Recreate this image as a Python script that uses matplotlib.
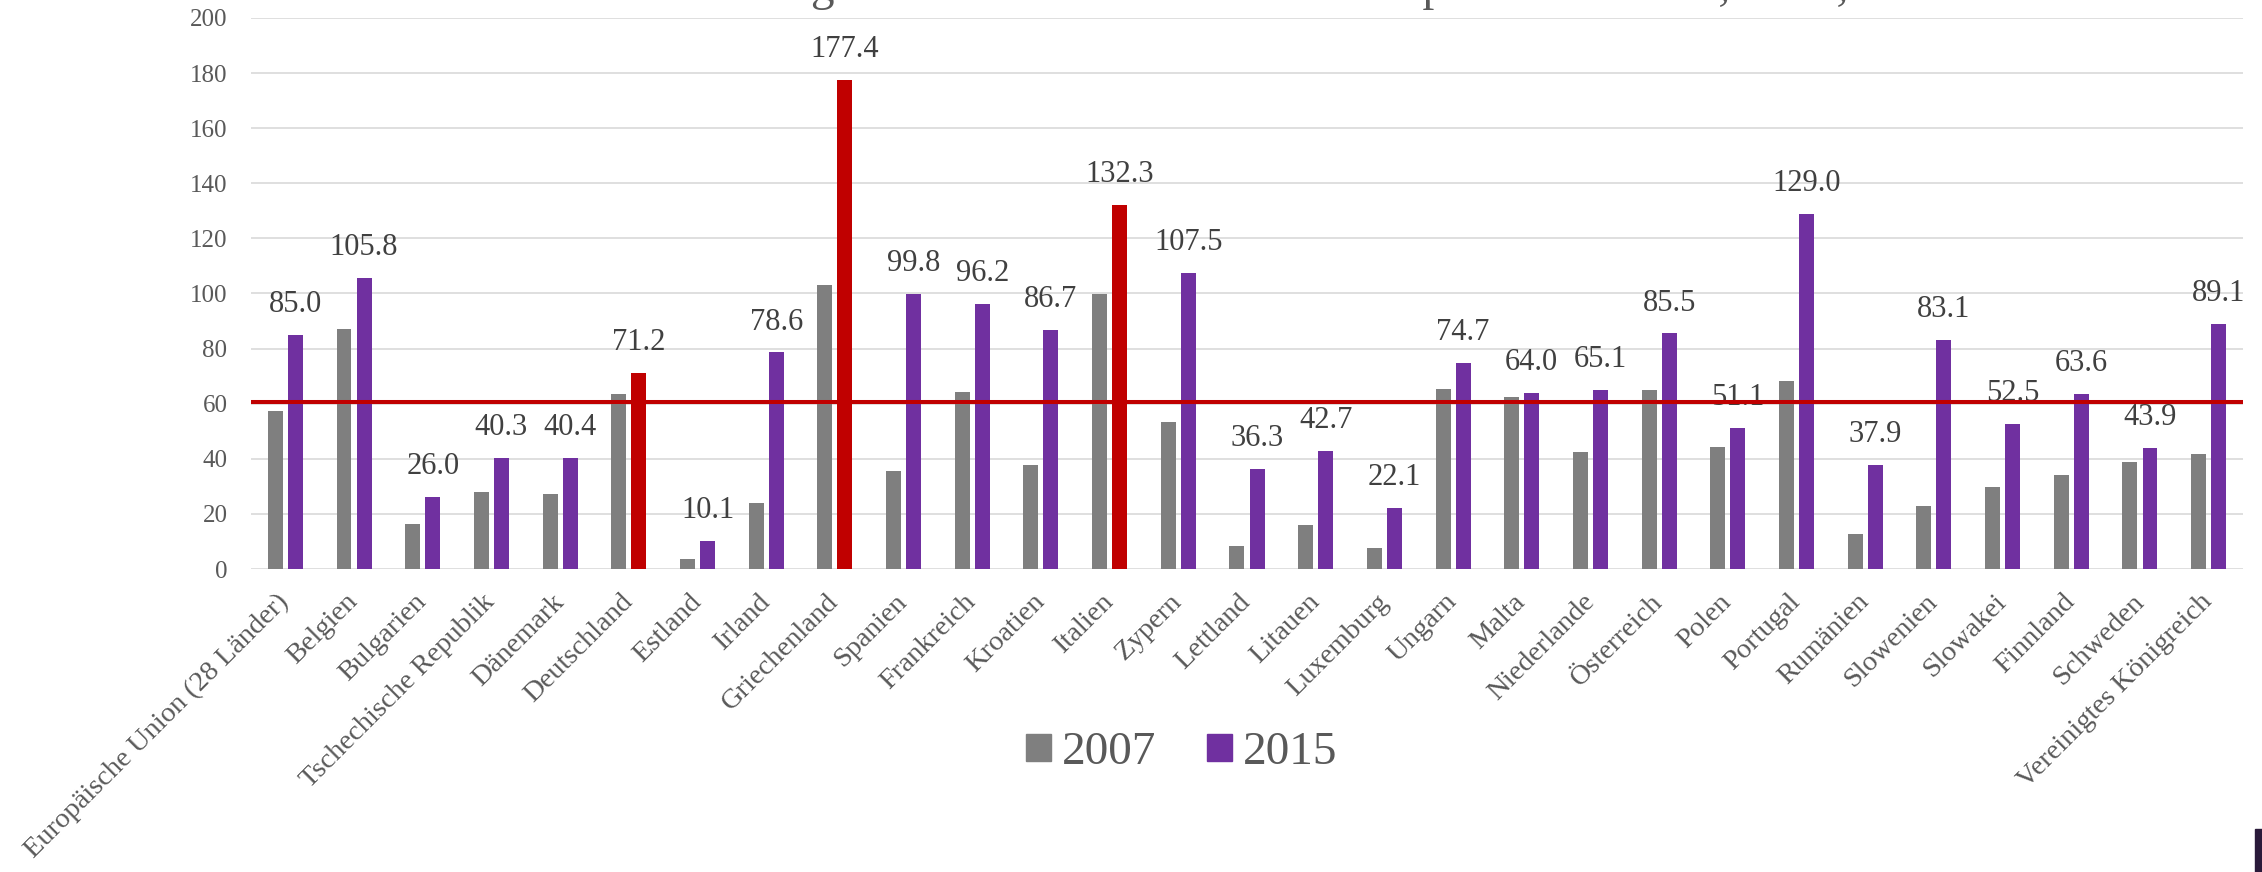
import matplotlib
matplotlib.use("Agg")
import matplotlib.pyplot as plt
from matplotlib.patches import Rectangle, Patch
import numpy as np

plt.rcParams['font.family'] = ['Liberation Serif', 'DejaVu Serif']

laender = ['Europäische Union (28 Länder)', 'Belgien', 'Bulgarien', 'Tschechische Republik',
           'Dänemark', 'Deutschland', 'Estland', 'Irland', 'Griechenland', 'Spanien',
           'Frankreich', 'Kroatien', 'Italien', 'Zypern', 'Lettland', 'Litauen', 'Luxemburg',
           'Ungarn', 'Malta', 'Niederlande', 'Österreich', 'Polen', 'Portugal', 'Rumänien',
           'Slowenien', 'Slowakei', 'Finnland', 'Schweden', 'Vereinigtes Königreich']
schulden_2007 = [57.5, 87.0, 16.3, 27.8, 27.3, 63.7, 3.7, 23.9, 103.1, 35.5, 64.2, 37.7, 99.8,
                 53.5, 8.4, 15.9, 7.7, 65.5, 62.3, 42.4, 64.8, 44.2, 68.4, 12.7, 22.8, 29.9,
                 34.0, 38.9, 41.9]
schulden_2015 = [85.0, 105.8, 26.0, 40.3, 40.4, 71.2, 10.1, 78.6, 177.4, 99.8, 96.2, 86.7, 132.3,
                 107.5, 36.3, 42.7, 22.1, 74.7, 64.0, 65.1, 85.5, 51.1, 129.0, 37.9, 83.1, 52.5,
                 63.6, 43.9, 89.1]
hervorgehoben = ['Deutschland', 'Griechenland', 'Italien']
grenze = 60.7
titel = 'Staatsverschuldung in Prozent des BIP in der Europäischen Union, 2007, 2015'

grau = '#7f7f7f'
lila = '#7030a0'
rot = '#c00000'

fig = plt.figure(figsize=(22.62, 8.72), dpi=100)
ax = fig.add_axes([251 / 2262, 1 - 569 / 872, 1992 / 2262, 551 / 872])

x = np.arange(len(laender))
off = 0.146
w = 0.218
farben = [rot if l in hervorgehoben else lila for l in laender]
ax.bar(x - off, schulden_2007, width=w, color=grau, zorder=2)
ax.bar(x + off, schulden_2015, width=w, color=farben, zorder=2)

for xi, v in zip(x, schulden_2015):
    ax.annotate(f'{v:.1f}', (xi + off, v), xytext=(0, 16.5), textcoords='offset points',
                ha='center', va='baseline', fontsize=22, color='#404040', zorder=3)

ax.axhline(grenze, color=rot, lw=2.9, zorder=4)

ax.set_xlim(-0.5, len(laender) - 0.5)
ax.set_ylim(0, 200)
ax.set_yticks(range(0, 201, 20))
ax.grid(axis='y', color='#d9d9d9', lw=1.2, zorder=0)
ax.set_axisbelow(True)
for s in ax.spines.values():
    s.set_visible(False)
ax.tick_params(axis='y', length=0, pad=17, labelsize=18, labelcolor='#595959')
ax.tick_params(axis='x', length=0, pad=21)
ax.set_xticks(x)
ax.set_xticklabels(laender, rotation=45, ha='right', va='center', rotation_mode='anchor',
                   fontsize=20.5, color='#595959')

handles = [Patch(color=grau, label='2007'), Patch(color=lila, label='2015')]
fig.legend(handles=handles, loc='center', bbox_to_anchor=(1182 / 2262, 1 - 753 / 872),
           ncol=2, frameon=False, fontsize=34, handlelength=0.53, handleheight=0.53,
           handletextpad=0.23, columnspacing=1.08, labelcolor='#595959')

# Titel liegt fast ganz oberhalb des Bildes, nur die Unterlängen sind sichtbar
fig.text(1955 / 2262, 1.0, titel, ha='right', va='baseline', fontsize=34, color='#595959')

fig.patches.append(Rectangle((2255 / 2262, 0), 7 / 2262, 43 / 872, transform=fig.transFigure,
                             color='#2a1a3a', zorder=5))

fig.savefig('out.png', dpi=100)
